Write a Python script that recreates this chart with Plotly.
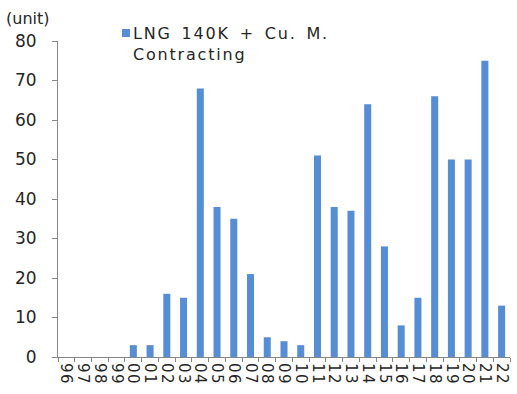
import plotly.graph_objects as go

years = ["96", "97", "98", "99", "00", "01", "02", "03", "04", "05", "06", "07", "08", "09",
         "10", "11", "12", "13", "14", "15", "16", "17", "18", "19", "20", "21", "22"]
contracts = [0, 0, 0, 0, 3, 3, 16, 15, 68, 38, 35, 21, 5, 4,
             3, 51, 38, 37, 64, 28, 8, 15, 66, 50, 50, 75, 13]
y_ticks = [0, 10, 20, 30, 40, 50, 60, 70, 80]
series_name = "LNG 140K + Cu. M."
series_name2 = "Contracting"
bar_color = "#558ED5"

W, H = 517, 394
ML, MR, MT, MB = 58, 7, 41, 37
pw, ph = W - ML - MR, H - MT - MB


def px(xp):
    return (xp - ML) / pw


def py(yp):
    return (H - MB - yp) / ph


tick_text = ["<span style='letter-spacing:1.5px'>" + y + "</span>" for y in years]

fig = go.Figure()
fig.add_trace(go.Bar(x=years, y=contracts, name=series_name,
                     marker=dict(color=bar_color, line=dict(width=0)),
                     showlegend=False))

font_family = "DejaVu Sans, sans-serif"
fig.update_layout(
    width=W, height=H,
    margin=dict(l=ML, r=MR, t=MT, b=MB, autoexpand=False),
    paper_bgcolor="white", plot_bgcolor="white",
    bargap=0.58,
    font=dict(family=font_family, color="#262626"),
    xaxis=dict(type="category", tickmode="array", tickvals=years, ticktext=tick_text,
               tickangle=90, tickfont=dict(size=15),
               showline=True, linecolor="#868686", linewidth=1,
               ticks="outside", ticklen=4, tickcolor="#868686",
               tickson="boundaries", showgrid=False, zeroline=False,
               ticklabelstandoff=2, automargin=False),
    yaxis=dict(range=[0, 80], tickvals=y_ticks, tickfont=dict(size=17),
               showline=True, linecolor="#868686", linewidth=1,
               ticks="outside", ticklen=5, tickcolor="#868686",
               showgrid=False, zeroline=False, ticklabelstandoff=12,
               automargin=False),
    shapes=[dict(type="rect", xref="paper", yref="paper",
                 x0=px(122), x1=px(130), y0=py(37), y1=py(29),
                 fillcolor=bar_color, line=dict(width=0))],
    annotations=[
        dict(text="(unit)", xref="paper", yref="paper", x=px(27), y=py(18),
             xanchor="center", yanchor="middle", showarrow=False,
             font=dict(size=16, color="#262626")),
        dict(text="<span style='letter-spacing:1.8px;word-spacing:3px'>" + series_name
             + "<br>" + series_name2 + "</span>",
             xref="paper", yref="paper", x=px(131), y=py(22),
             xanchor="left", yanchor="top", align="left", showarrow=False,
             font=dict(size=16, color="#262626")),
    ],
)
fig.write_html("out.html")
